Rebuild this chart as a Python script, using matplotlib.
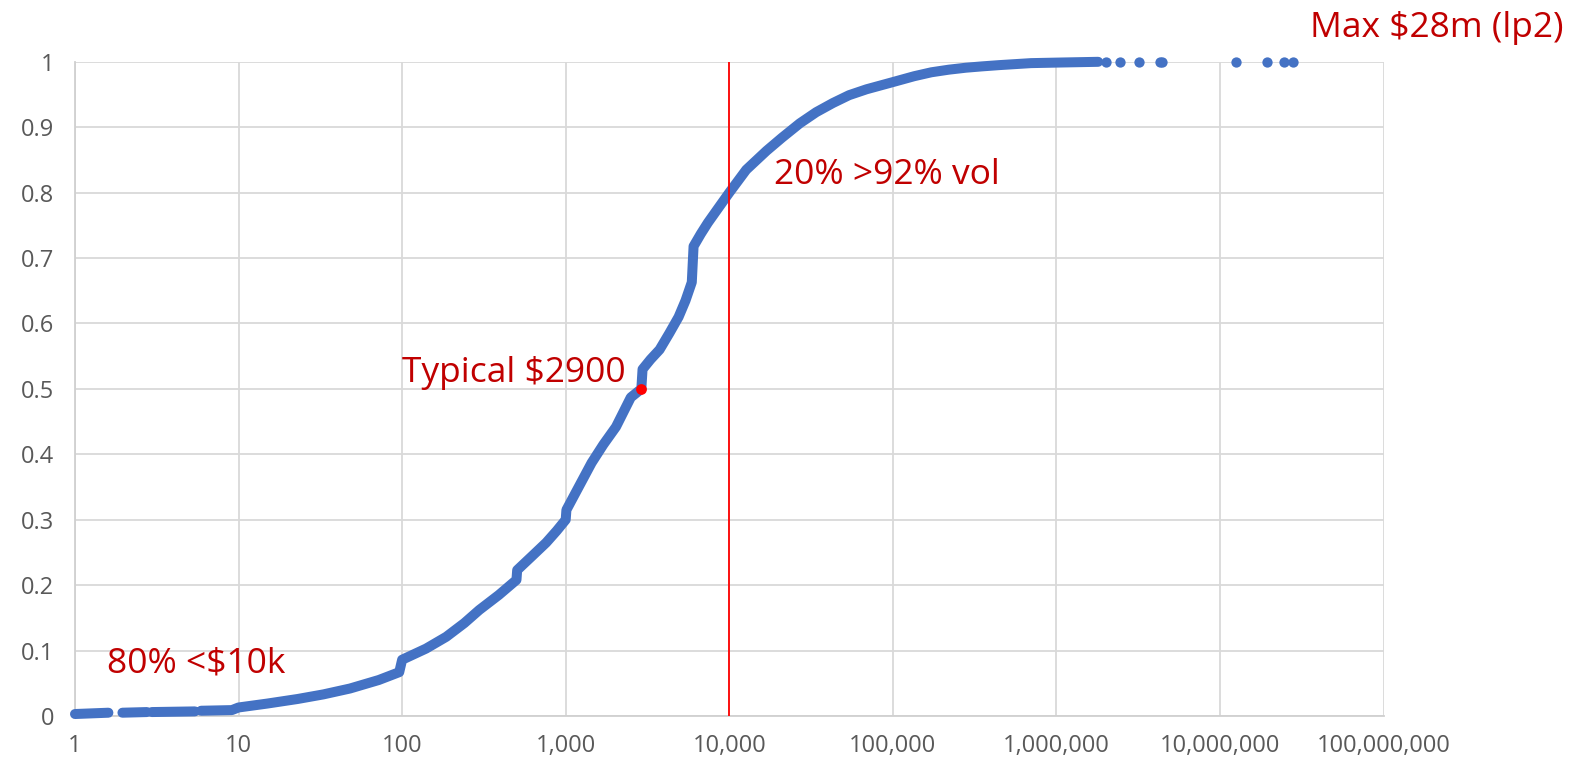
import numpy as np
import matplotlib
matplotlib.use('Agg')
import matplotlib.pyplot as plt

plt.rcParams['font.family'] = ['Open Sans', 'DejaVu Sans']

# CDF of transaction value, gaps (nan) where the dots break up
curve_x = [1, 1.6, np.nan, 1.95, 2.75, np.nan, 2.95, 5.4, np.nan, 5.9, 9.1,
           10, 15, 23, 33, 48, 72, 96, 100, 140, 186, 240, 296, 390, 500, 505, 620, 760, 880, 1000, 1010,
           1200, 1440, 1700, 2030, 2500, 2900, 2950, 3300, 3750, 4300, 4900, 5400, 5900, 6050, 6700, 7400,
           8600, 10000, 12700, 16900, 21000, 27000, 34000, 43000, 54000, 69000, 100000, 135000, 172000,
           220000, 280000, 350000, 450000, 700000, 1100000, 1800000]
curve_y = [0.003, 0.005, np.nan, 0.005, 0.006, np.nan, 0.006, 0.007, np.nan, 0.008, 0.009,
           0.013, 0.019, 0.026, 0.033, 0.042, 0.055, 0.067, 0.086, 0.103, 0.121, 0.142, 0.162, 0.185, 0.208, 0.223, 0.244, 0.265, 0.283, 0.30, 0.315,
           0.35, 0.387, 0.415, 0.442, 0.487, 0.50, 0.53, 0.545, 0.56, 0.585, 0.61, 0.635, 0.663, 0.718, 0.737, 0.754,
           0.777, 0.80, 0.835, 0.864, 0.884, 0.906, 0.923, 0.937, 0.949, 0.958, 0.969, 0.978, 0.984,
           0.988, 0.991, 0.993, 0.995, 0.998, 0.999, 1.0]

# sparse largest values
tail_x = [2.0e6, 2.46e6, 3.2e6, 4.3e6, 4.4e6, 1.26e7, 1.93e7, 2.45e7, 2.8e7]
tail_y = [1, 1, 1, 1, 1, 1, 1, 1, 1]

typical_x = 2900
typical_y = 0.5
cutoff = 10000

x_ticks = [1, 10, 100, 1000, 10000, 100000, 1000000, 10000000, 100000000]
x_labels = ['1', '10', '100', '1,000', '10,000', '100,000', '1,000,000', '10,000,000', '100,000,000']
y_ticks = [0, 0.1, 0.2, 0.3, 0.4, 0.5, 0.6, 0.7, 0.8, 0.9, 1]
y_labels = ['0', '0.1', '0.2', '0.3', '0.4', '0.5', '0.6', '0.7', '0.8', '0.9', '1']

blue = '#4472C4'
red_txt = '#C00000'

fig = plt.figure(figsize=(15.69, 7.66), dpi=100)
ax = fig.add_axes([0.0478, 0.0653, 0.834, 0.854])

ax.plot(curve_x, curve_y, color=blue, lw=7.2, solid_capstyle='round', solid_joinstyle='round',
        zorder=3, clip_on=False)
ax.scatter(tail_x, tail_y, s=55, color=blue, zorder=3, linewidths=0, clip_on=False)
ax.axvline(cutoff, ymin=0, ymax=1, color='#FF0000', lw=1.3, zorder=4)
ax.scatter([typical_x], [typical_y], s=60, color='#FF0000', zorder=5, linewidths=0)

ax.set_xscale('log')
ax.set_xlim(1, 1e8)
ax.set_ylim(0, 1)
ax.set_xticks(x_ticks)
ax.set_xticklabels(x_labels)
ax.minorticks_off()
ax.set_yticks(y_ticks)
ax.set_yticklabels(y_labels)
ax.tick_params(length=0, labelsize=17, labelcolor='#595959')
ax.tick_params(axis='x', pad=13)
ax.tick_params(axis='y', pad=15)
ax.grid(True, color='#D9D9D9', lw=1.3)
ax.set_axisbelow(True)
for s in ['top', 'right']:
    ax.spines[s].set_visible(False)
for s in ['left', 'bottom']:
    ax.spines[s].set_color('#D0D0D0')
    ax.spines[s].set_linewidth(1.3)

ax.text(1.57, 0.066, '80% <$10k', color=red_txt, fontsize=25.5, va='baseline')
ax.text(100, 0.511, 'Typical $2900', color=red_txt, fontsize=25.5, va='baseline')
ax.text(18800, 0.8125, '20% >92% vol', color=red_txt, fontsize=25.5, va='baseline')
fig.text(1310 / 1569, 1 - 37 / 766, 'Max $28m (lp2)', color=red_txt, fontsize=25.5, va='baseline')

plt.savefig('out.png', dpi=100)
